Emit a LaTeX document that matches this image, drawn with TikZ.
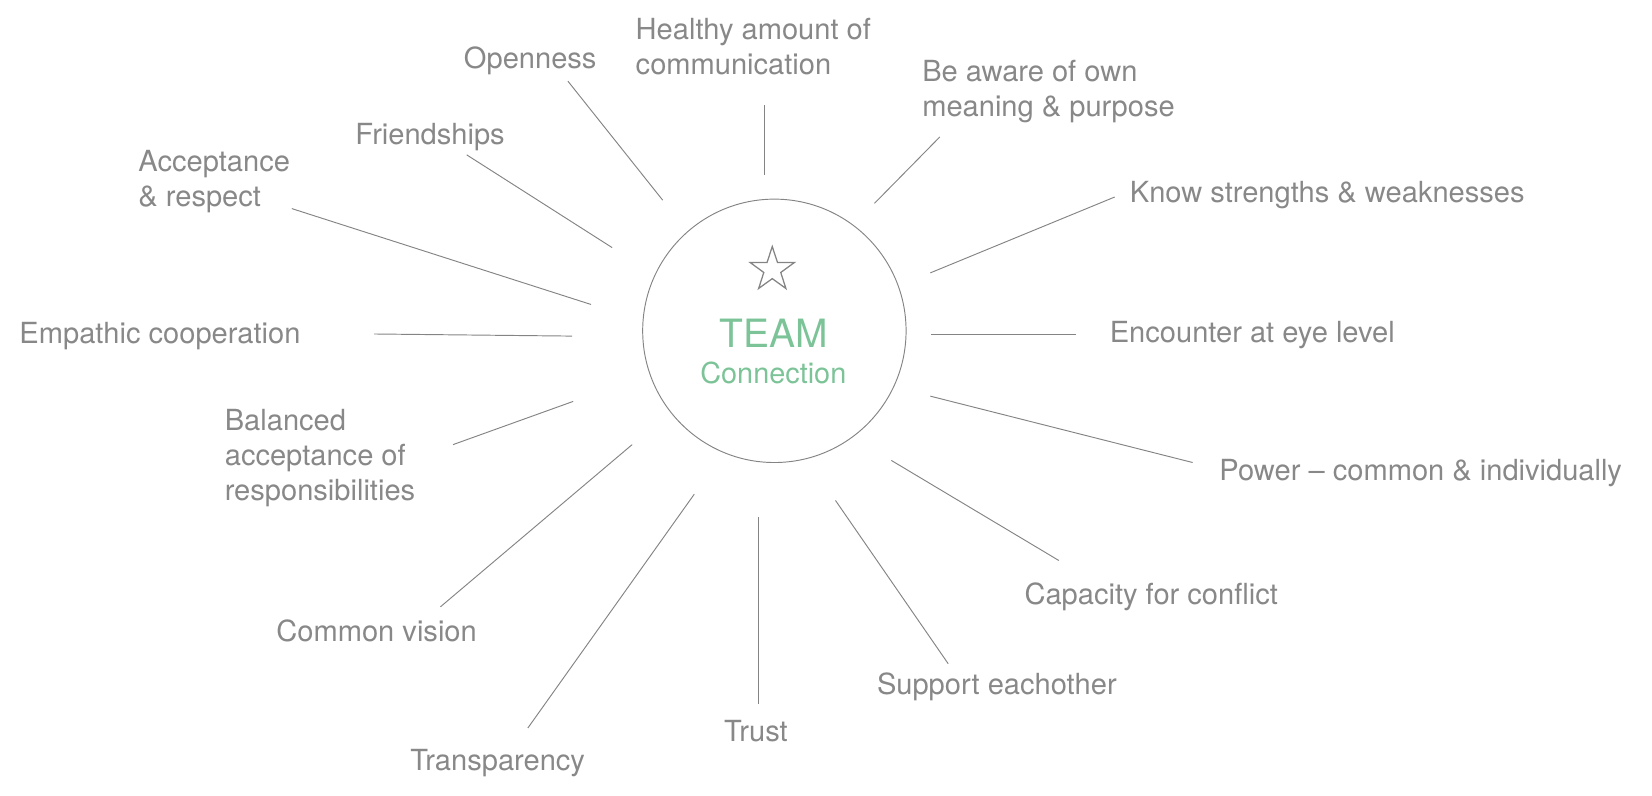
\documentclass[tikz,border=0pt]{standalone}
\usepackage{fontspec}
\setmainfont{TeX Gyre Heros}
\usetikzlibrary{shapes}
\definecolor{txtgray}{RGB}{136,136,136}
\definecolor{linegray}{RGB}{132,132,132}
\definecolor{teamgreen}{RGB}{124,195,152}

\begin{document}
\begin{tikzpicture}
  [x=0.5pt,y=-0.5pt,every node/.style={inner sep=0pt,text=txtgray},
   lbl/.style={anchor=west,align=left,font=\fontsize{13.8}{16.6}\selectfont},
   spoke/.style={draw=linegray,line width=0.45pt}]
  \useasboundingbox (0,0) rectangle (1568,754.6);

  \node[circle,draw=linegray,line width=0.45pt,minimum size=125pt] (team) at (735,314) {};
  \node[star,star points=5,star point ratio=2.6,draw=linegray,line width=0.6pt,minimum size=22pt] (st) at (733,256) {};
  \node[text=teamgreen,font=\fontsize{18.5}{20}\selectfont] (title) at (734,316) {TEAM};
  \node[text=teamgreen,font=\fontsize{13.7}{16}\selectfont] (sub) at (734,354) {Connection};

  \node[lbl] (n1) at (440,58) {Openness};
  \node[lbl] (n2) at (603,44) {Healthy amount of\\communication};
  \node[lbl] (n3) at (875,87) {Be aware of own\\meaning \& purpose};
  \node[lbl] (n4) at (1072,185) {Know strengths \& weaknesses};
  \node[lbl] (n5) at (1053,318) {Encounter at eye level};
  \node[lbl] (n6) at (1157,449) {Power -- common \& individually};
  \node[lbl] (n7) at (972,566) {Capacity for conflict};
  \node[lbl] (n8) at (832,652) {Support eachother};
  \node[lbl] (n9) at (687,694) {Trust};
  \node[lbl] (n10) at (389,724) {Transparency};
  \node[lbl] (n11) at (262,599) {Common vision};
  \node[lbl] (n12) at (213,435) {Balanced\\acceptance of\\responsibilities};
  \node[lbl] (n13) at (18,319) {Empathic cooperation};
  \node[lbl] (n14) at (131,172) {Acceptance\\\& respect};
  \node[lbl] (n15) at (337,130) {Friendships};

  \coordinate (a1) at (539,77);   \coordinate (b1) at (629,190);
  \coordinate (a2) at (726,100);  \coordinate (b2) at (726,166);
  \coordinate (a3) at (892,130);  \coordinate (b3) at (830,193);
  \coordinate (a4) at (1058,187); \coordinate (b4) at (883,259);
  \coordinate (a5) at (1021,317); \coordinate (b5) at (884,317);
  \coordinate (a6) at (1132,439); \coordinate (b6) at (883,376);
  \coordinate (a7) at (1005,532); \coordinate (b7) at (846,437);
  \coordinate (a8) at (900,630);  \coordinate (b8) at (793,475);
  \coordinate (a9) at (720,668);  \coordinate (b9) at (720,491);
  \coordinate (a10) at (501,691); \coordinate (b10) at (659,469);
  \coordinate (a11) at (418,576); \coordinate (b11) at (600,422);
  \coordinate (a12) at (430,422); \coordinate (b12) at (544,381);
  \coordinate (a13) at (355,317); \coordinate (b13) at (543,319);
  \coordinate (a14) at (277,198); \coordinate (b14) at (561,289);
  \coordinate (a15) at (443,147); \coordinate (b15) at (581,235);

  \draw[spoke] (a1) to (b1);
  \draw[spoke] (a2) to (b2);
  \draw[spoke] (a3) to (b3);
  \draw[spoke] (a4) to (b4);
  \draw[spoke] (a5) to (b5);
  \draw[spoke] (a6) to (b6);
  \draw[spoke] (a7) to (b7);
  \draw[spoke] (a8) to (b8);
  \draw[spoke] (a9) to (b9);
  \draw[spoke] (a10) to (b10);
  \draw[spoke] (a11) to (b11);
  \draw[spoke] (a12) to (b12);
  \draw[spoke] (a13) to (b13);
  \draw[spoke] (a14) to (b14);
  \draw[spoke] (a15) to (b15);
\end{tikzpicture}
\end{document}
